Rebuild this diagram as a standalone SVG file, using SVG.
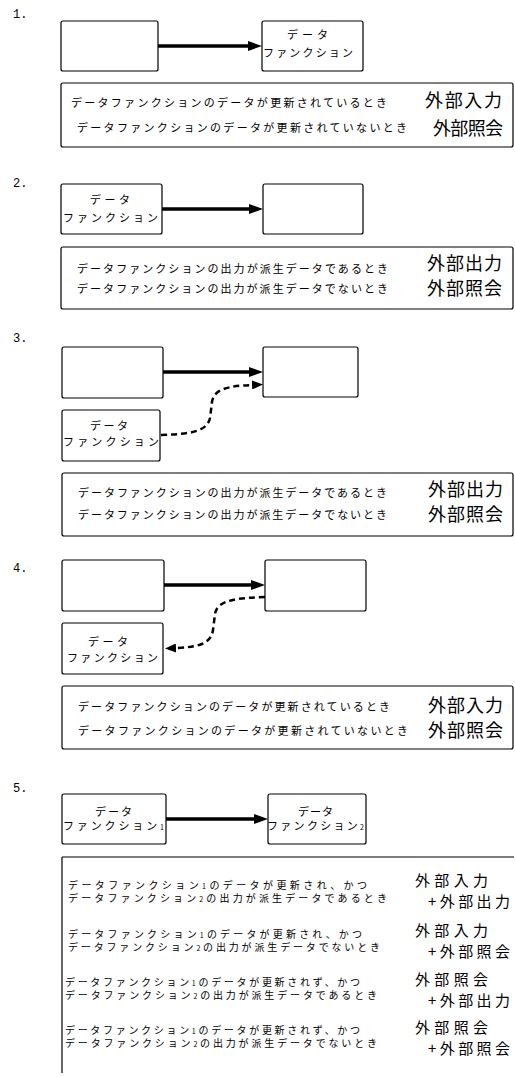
<svg xmlns="http://www.w3.org/2000/svg" width="515" height="1077" viewBox="0 0 515 1077">
<style>
.bg{fill:#fff}
.box{fill:#fff;stroke:#000;stroke-width:1.2}
.cond{fill:none;stroke:#000;stroke-width:1.2}
.t{font-family:"Noto Sans CJK JP","Noto Sans CJK SC",sans-serif;font-size:11px;fill:#000}
.t5{font-family:"Noto Sans CJK JP","Noto Sans CJK SC",sans-serif;font-size:10px;fill:#000}
.sub{font-size:7px}
.big{font-family:"Noto Sans CJK JP","Noto Sans CJK SC",sans-serif;font-size:18px;fill:#000}
.big5{font-family:"Noto Sans CJK JP","Noto Sans CJK SC",sans-serif;font-size:15px;fill:#000}
.num{font-family:"Liberation Mono",monospace;font-size:12px;fill:#000}
.solid{stroke:#000;stroke-width:3.5;fill:none;marker-end:url(#ah)}
.dash{stroke:#000;stroke-width:2.5;fill:none;stroke-dasharray:6 4;marker-end:url(#ah2)}
</style>
<defs>
<marker id="ah" markerUnits="userSpaceOnUse" markerWidth="14" markerHeight="10" refX="0" refY="5" orient="auto"><path d="M0,0 L14,5 L0,10 z" fill="#000"/></marker>
<marker id="ah2" markerUnits="userSpaceOnUse" markerWidth="11" markerHeight="9" refX="0" refY="4.5" orient="auto"><path d="M0,0 L11,4.5 L0,9 z" fill="#000"/></marker>
</defs>
<rect class="bg" x="0" y="0" width="515" height="1077"/>

<!-- Section 1 -->
<text class="num" x="13" y="18">1.</text>
<g id="s1-src"><rect class="box" x="61" y="21" width="97" height="50" rx="2"/></g>
<g id="s1-df"><rect class="box" x="262" y="21" width="101" height="50" rx="2"/>
<text class="t" x="287" y="39" textLength="41" lengthAdjust="spacing">データ</text>
<text class="t" x="263" y="57" textLength="90" lengthAdjust="spacing">ファンクション</text></g>
<g id="s1-cond"><rect class="cond" x="61" y="83" width="452" height="64" rx="2"/>
<text class="t" x="71" y="107" textLength="316" lengthAdjust="spacing">データファンクションのデータが更新されているとき</text>
<text class="t" x="77" y="132" textLength="330" lengthAdjust="spacing">データファンクションのデータが更新されていないとき</text>
<text class="big" x="425" y="107" textLength="77" lengthAdjust="spacing">外部入力</text>
<text class="big" x="433" y="135" textLength="70" lengthAdjust="spacing">外部照会</text></g>

<!-- Section 2 -->
<text class="num" x="13" y="187">2.</text>
<g id="s2-df"><rect class="box" x="61" y="184" width="101" height="50" rx="2"/>
<text class="t" x="90" y="204" textLength="40" lengthAdjust="spacing">データ</text>
<text class="t" x="63" y="222" textLength="95" lengthAdjust="spacing">ファンクション</text></g>
<g id="s2-dst"><rect class="box" x="263" y="184" width="100" height="50" rx="2"/></g>
<g id="s2-cond"><rect class="cond" x="61" y="247" width="452" height="62" rx="2"/>
<text class="t" x="77" y="273" textLength="311" lengthAdjust="spacing">データファンクションの出力が派生データであるとき</text>
<text class="t" x="77" y="293" textLength="311" lengthAdjust="spacing">データファンクションの出力が派生データでないとき</text>
<text class="big" x="427" y="270" textLength="75" lengthAdjust="spacing">外部出力</text>
<text class="big" x="427" y="295" textLength="75" lengthAdjust="spacing">外部照会</text></g>

<!-- Section 3 -->
<text class="num" x="13" y="342">3.</text>
<g id="s3-src"><rect class="box" x="62" y="347" width="101" height="51" rx="2"/></g>
<g id="s3-dst"><rect class="box" x="263" y="347" width="95" height="50" rx="2"/></g>
<g id="s3-df"><rect class="box" x="62" y="410" width="98" height="51" rx="2"/>
<text class="t" x="90" y="430" textLength="38" lengthAdjust="spacing">データ</text>
<text class="t" x="63" y="446" textLength="96" lengthAdjust="spacing">ファンクション</text></g>
<g id="s3-cond"><rect class="cond" x="62" y="473" width="451" height="63" rx="2"/>
<text class="t" x="78" y="497" textLength="309" lengthAdjust="spacing">データファンクションの出力が派生データであるとき</text>
<text class="t" x="78" y="519" textLength="309" lengthAdjust="spacing">データファンクションの出力が派生データでないとき</text>
<text class="big" x="428" y="496" textLength="75" lengthAdjust="spacing">外部出力</text>
<text class="big" x="428" y="521" textLength="75" lengthAdjust="spacing">外部照会</text></g>

<!-- Section 4 -->
<text class="num" x="13" y="572">4.</text>
<g id="s4-src"><rect class="box" x="62" y="560" width="102" height="51" rx="2"/></g>
<g id="s4-dst"><rect class="box" x="265" y="560" width="101" height="51" rx="2"/></g>
<g id="s4-df"><rect class="box" x="62" y="623" width="101" height="51" rx="2"/>
<text class="t" x="88" y="646" textLength="40" lengthAdjust="spacing">データ</text>
<text class="t" x="67" y="662" textLength="91" lengthAdjust="spacing">ファンクション</text></g>
<g id="s4-cond"><rect class="cond" x="62" y="686" width="451" height="63" rx="2"/>
<text class="t" x="78" y="711" textLength="312" lengthAdjust="spacing">データファンクションのデータが更新されているとき</text>
<text class="t" x="78" y="735" textLength="330" lengthAdjust="spacing">データファンクションのデータが更新されていないとき</text>
<text class="big" x="428" y="712" textLength="75" lengthAdjust="spacing">外部入力</text>
<text class="big" x="428" y="737" textLength="75" lengthAdjust="spacing">外部照会</text></g>

<!-- Section 5 -->
<text class="num" x="13" y="792">5.</text>
<g id="s5-df1"><rect class="box" x="62" y="794" width="104" height="50" rx="2"/>
<text class="t" x="95" y="816" textLength="37" lengthAdjust="spacing">データ</text>
<text class="t" x="63" y="830" textLength="101" lengthAdjust="spacing">ファンクション<tspan class="sub">1</tspan></text></g>
<g id="s5-df2"><rect class="box" x="268" y="794" width="98" height="50" rx="2"/>
<text class="t" x="298" y="816" textLength="35" lengthAdjust="spacing">データ</text>
<text class="t" x="267" y="830" textLength="97" lengthAdjust="spacing">ファンクション<tspan class="sub">2</tspan></text></g>
<g id="s5-cond">
<path class="cond" d="M62,857 H514 M62,857 V1073"/>
<text class="t5" x="68" y="889" textLength="299" lengthAdjust="spacing">データファンクション<tspan class="sub">1</tspan>のデータが更新され、かつ</text>
<text class="t5" x="68" y="902" textLength="319" lengthAdjust="spacing">データファンクション<tspan class="sub">2</tspan>の出力が派生データであるとき</text>
<text class="big5" x="415" y="886" textLength="73" lengthAdjust="spacing">外部入力</text>
<text class="big5" x="428" y="907" textLength="82" lengthAdjust="spacing">+外部出力</text>
<text class="t5" x="68" y="938" textLength="294" lengthAdjust="spacing">データファンクション<tspan class="sub">1</tspan>のデータが更新され、かつ</text>
<text class="t5" x="68" y="951" textLength="312" lengthAdjust="spacing">データファンクション<tspan class="sub">2</tspan>の出力が派生データでないとき</text>
<text class="big5" x="415" y="936" textLength="73" lengthAdjust="spacing">外部入力</text>
<text class="big5" x="428" y="957" textLength="82" lengthAdjust="spacing">+外部照会</text>
<text class="t5" x="65" y="986" textLength="295" lengthAdjust="spacing">データファンクション<tspan class="sub">1</tspan>のデータが更新されず、かつ</text>
<text class="t5" x="65" y="999" textLength="312" lengthAdjust="spacing">データファンクション<tspan class="sub">2</tspan>の出力が派生データであるとき</text>
<text class="big5" x="415" y="985" textLength="73" lengthAdjust="spacing">外部照会</text>
<text class="big5" x="428" y="1006" textLength="82" lengthAdjust="spacing">+外部出力</text>
<text class="t5" x="65" y="1034" textLength="295" lengthAdjust="spacing">データファンクション<tspan class="sub">1</tspan>のデータが更新されず、かつ</text>
<text class="t5" x="65" y="1047" textLength="312" lengthAdjust="spacing">データファンクション<tspan class="sub">2</tspan>の出力が派生データでないとき</text>
<text class="big5" x="415" y="1033" textLength="73" lengthAdjust="spacing">外部照会</text>
<text class="big5" x="428" y="1054" textLength="82" lengthAdjust="spacing">+外部照会</text>
</g>

<g id="connectors">
<path class="solid" d="M158,46 H248"/>
<path class="solid" d="M162,209 H249"/>
<path class="solid" d="M163,372 H249"/>
<path class="dash" d="M161,435 C190,434 207,432 210,418 L212,402 C214,389 228,386 252,385"/>
<path class="solid" d="M164,585 H251"/>
<path class="dash" d="M265,597 C240,598 217,599 215,614 L213,630 C211,645 196,647 176,648"/>
<path class="solid" d="M166,819 H254"/>
</g>
</svg>
